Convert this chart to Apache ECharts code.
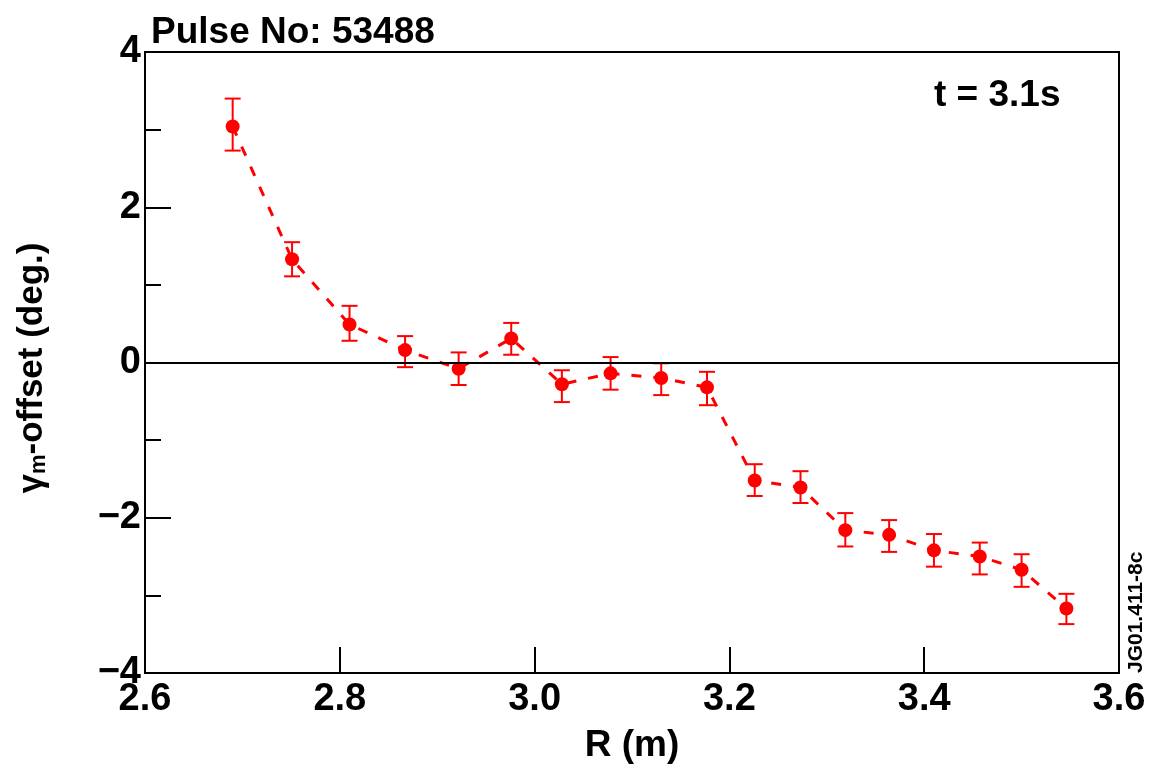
<!DOCTYPE html>
<html>
<head>
<meta charset="utf-8">
<script src="https://cdn.jsdelivr.net/npm/echarts@6/dist/echarts.min.js"></script>
<style>html,body{margin:0;padding:0;background:#fff;}#c{width:1159px;height:770px;}</style>
</head>
<body>
<div id="c"></div>
<script>
const R = [2.690, 2.751, 2.810, 2.867, 2.922, 2.976, 3.028, 3.078, 3.130, 3.177, 3.226, 3.273, 3.319, 3.364, 3.410, 3.457, 3.500, 3.546];
const gamma = [3.04, 1.33, 0.49, 0.16, -0.08, 0.31, -0.28, -0.14, -0.20, -0.32, -1.52, -1.61, -2.16, -2.22, -2.42, -2.50, -2.67, -3.17];
const errHigh = [3.40, 1.55, 0.73, 0.34, 0.13, 0.51, -0.10, 0.07, -0.01, -0.12, -1.31, -1.40, -1.94, -2.03, -2.21, -2.32, -2.47, -2.98];
const errLow = [2.73, 1.11, 0.28, -0.06, -0.29, 0.10, -0.51, -0.35, -0.42, -0.55, -1.72, -1.81, -2.37, -2.44, -2.63, -2.73, -2.89, -3.37];
const titleText = 'Pulse No: 53488';
const timeText = 't = 3.1s';
const xName = 'R (m)';
const figId = 'JG01.411-8c';

const FONT = '"Liberation Sans", Arial, Helvetica, sans-serif';
const RED = '#ff0000';
const chart = echarts.init(document.getElementById('c'));

const pts = R.map((r, i) => [r, gamma[i]]);
const bars = R.map((r, i) => [r, errLow[i], errHigh[i]]);

chart.setOption({
  animation: false,
  backgroundColor: '#fff',
  grid: { left: 145, right: 40, top: 52, bottom: 97, show: true, borderColor: '#000', borderWidth: 2, backgroundColor: 'transparent' },
  title: {
    text: titleText, left: 146, top: 9,
    textStyle: { fontFamily: FONT, fontWeight: 'bold', fontSize: 37, color: '#000' }
  },
  graphic: [
    { type: 'text', left: 934, top: 77, style: { text: timeText, font: 'bold 37px ' + FONT, fill: '#000' } },
    { type: 'text', x: 1126, y: 673, rotation: Math.PI / 2, style: { text: figId, font: 'bold 21px ' + FONT, fill: '#000', align: 'left', verticalAlign: 'top' } },
    { type: 'text', x: 32, y: 368, rotation: Math.PI / 2,
      style: {
        text: 'γ{s|m}-offset (deg.)', align: 'center', verticalAlign: 'middle',
        font: 'bold 35px ' + FONT, fill: '#000',
        rich: { s: { font: 'bold 22px ' + FONT, fill: '#000', verticalAlign: 'bottom', padding: [14, 0, 0, 0] } }
      } }
  ],
  xAxis: {
    type: 'value', min: 2.6, max: 3.6, interval: 0.2,
    name: xName, nameLocation: 'middle', nameGap: 54,
    nameTextStyle: { fontFamily: FONT, fontWeight: 'bold', fontSize: 37, color: '#000' },
    axisLine: { show: true, onZero: false, lineStyle: { color: '#000', width: 2 } },
    axisTick: { show: true, inside: true, length: 26, lineStyle: { color: '#000', width: 2 } },
    axisLabel: { margin: 8, fontFamily: FONT, fontWeight: 'bold', fontSize: 38, color: '#000', formatter: v => v.toFixed(1) },
    splitLine: { show: false }
  },
  yAxis: [
    {
      type: 'value', min: -4, max: 4, interval: 2, position: 'left',
      axisLine: { show: true, onZero: false, lineStyle: { color: '#000', width: 2 } },
      axisTick: { show: true, inside: true, length: 26, lineStyle: { color: '#000', width: 2 } },
      axisLabel: { margin: 4, fontFamily: FONT, fontWeight: 'bold', fontSize: 38, color: '#000',
        formatter: v => (v < 0 ? '\u2212' + Math.abs(v) : String(v)) },
      splitLine: { show: false }
    },
    {
      type: 'value', min: -4, max: 4, interval: 1, position: 'left', offset: 0,
      axisLine: { show: false, onZero: false },
      axisTick: { show: true, inside: true, length: 16, lineStyle: { color: '#000', width: 2 } },
      axisLabel: { show: false },
      splitLine: { show: false }
    }
  ],
  series: [
    {
      type: 'line', data: pts, symbol: 'circle', symbolSize: 14,
      itemStyle: { color: RED },
      lineStyle: { color: RED, width: 3, type: [10, 12] },
      z: 3,
      markLine: {
        silent: true, symbol: 'none', label: { show: false },
        lineStyle: { color: '#000', width: 2, type: 'solid' },
        data: [{ yAxis: 0 }]
      }
    },
    {
      type: 'custom', data: bars, z: 4,
      encode: { x: 0, y: [1, 2] },
      renderItem: function (params, api) {
        const x = api.value(0);
        const lo = api.coord([x, api.value(1)]);
        const hi = api.coord([x, api.value(2)]);
        const hw = 8;
        const st = { stroke: RED, lineWidth: 2, fill: null };
        return {
          type: 'group', children: [
            { type: 'line', shape: { x1: lo[0], y1: lo[1], x2: hi[0], y2: hi[1] }, style: st },
            { type: 'line', shape: { x1: lo[0] - hw, y1: lo[1], x2: lo[0] + hw, y2: lo[1] }, style: st },
            { type: 'line', shape: { x1: hi[0] - hw, y1: hi[1], x2: hi[0] + hw, y2: hi[1] }, style: st }
          ]
        };
      }
    }
  ]
});
</script>
</body>
</html>
